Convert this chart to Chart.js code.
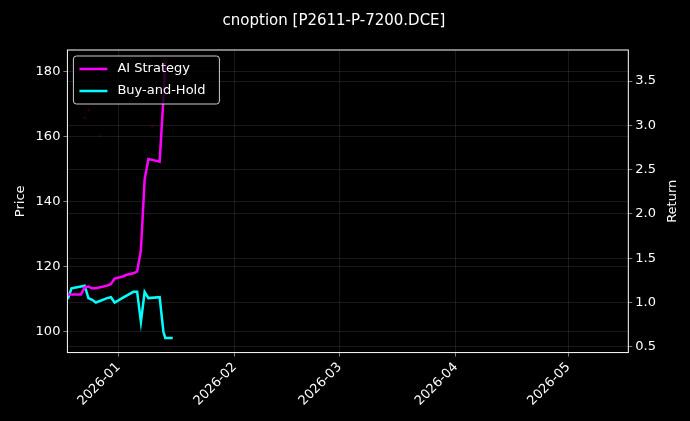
<!DOCTYPE html>
<html>
<head>
<meta charset="utf-8">
<script src="https://cdn.jsdelivr.net/npm/chart.js@4"></script>
<style>
  html, body { margin: 0; padding: 0; background: #000; }
  #wrap { width: 690px; height: 421px; }
</style>
</head>
<body>
<div id="wrap"><canvas id="chart"></canvas></div>
<script>
'use strict';
// x values are days since 2026-01-01
const aiDays = [-13.5, -10, -9, -8, -7, -6, -3, -2, -1, 1, 2, 4, 5, 6, 7, 8, 9, 11, 12, 12.5];
const aiReturn = [1.09, 1.09, 1.17, 1.18, 1.16, 1.16, 1.19, 1.21, 1.27, 1.29, 1.31, 1.33, 1.35, 1.59, 2.39, 2.62, 2.61, 2.59, 3.30, 3.72];
const bhDays = [-13.5, -12.5, -10, -9, -8, -7, -6, -3, -2, -1, 1, 4, 5, 6, 7, 8, 11, 12, 12.5, 14.5];
const bhReturn = [1.04, 1.16, 1.18, 1.19, 1.05, 1.03, 1.00, 1.05, 1.06, 1.00, 1.05, 1.12, 1.12, 0.78, 1.12, 1.05, 1.06, 0.67, 0.60, 0.60];
const priceDays = [-9, -8, -5, 9, 12];
const priceValues = [165.6, 168, 160, 163, 164];
const tickDays = [0, 31, 59, 90, 120];
const tickLabels = ['2026-01', '2026-02', '2026-03', '2026-04', '2026-05'];

const toPoints = (xs, ys) => xs.map((x, i) => ({x, y: ys[i]}));

Chart.defaults.font.family = 'DejaVu Sans';
Chart.defaults.font.size = 13;
Chart.defaults.color = '#fff';

const frame = {
  id: 'frame',
  afterDatasetsDraw(chart) {
    const {ctx, chartArea: a} = chart;
    ctx.save();
    ctx.strokeStyle = '#fff';
    ctx.lineWidth = 1;
    ctx.strokeRect(a.left, a.top, a.right - a.left, a.bottom - a.top);
    // right axis title, reading bottom to top
    ctx.save();
    ctx.translate(673, (a.top + a.bottom) / 2);
    ctx.rotate(-Math.PI / 2);
    ctx.font = '13px DejaVu Sans';
    ctx.fillStyle = '#fff';
    ctx.textAlign = 'center';
    ctx.textBaseline = 'middle';
    ctx.fillText('Return', 0, 0);
    ctx.restore();
    // legend box
    const items = chart.data.datasets.filter(d => d.label);
    const x0 = a.left + 6, y0 = a.top + 6;
    ctx.fillStyle = 'rgba(0,0,0,0.8)';
    ctx.strokeStyle = '#ccc';
    ctx.beginPath();
    ctx.roundRect(x0, y0, 146, 48, 3);
    ctx.fill();
    ctx.stroke();
    ctx.font = '13px DejaVu Sans';
    ctx.textBaseline = 'middle';
    items.forEach((d, i) => {
      const y = y0 + 13 + i * 22;
      ctx.strokeStyle = d.borderColor;
      ctx.lineWidth = 2.5;
      ctx.beginPath();
      ctx.moveTo(x0 + 6, y);
      ctx.lineTo(x0 + 34, y);
      ctx.stroke();
      ctx.fillStyle = '#fff';
      ctx.fillText(d.label, x0 + 44, y);
    });
    ctx.restore();
  },
};

const grid = {color: 'rgba(255,255,255,0.2)', lineWidth: 0.5, tickColor: '#fff', tickLength: 4, borderDash: [2, 2]};

new Chart(document.getElementById('chart'), {
  type: 'line',
  data: {
    datasets: [
      {
        data: toPoints(priceDays, priceValues),
        yAxisID: 'y',
        showLine: false,
        pointRadius: 1,
        pointBackgroundColor: 'rgba(200,0,40,0.4)',
        pointBorderWidth: 0,
      },
      {
        label: 'AI Strategy',
        data: toPoints(aiDays, aiReturn),
        yAxisID: 'y1',
        borderColor: '#ff00ff',
        borderWidth: 2.5,
        pointRadius: 0,
      },
      {
        label: 'Buy-and-Hold',
        data: toPoints(bhDays, bhReturn),
        yAxisID: 'y1',
        borderColor: '#00ffff',
        borderWidth: 2.5,
        pointRadius: 0,
      },
    ],
  },
  options: {
    responsive: true,
    maintainAspectRatio: false,
    animation: false,
    layout: {padding: {top: 12, right: 31, left: 9, bottom: 9}},
    scales: {
      x: {
        type: 'linear',
        min: -13.6,
        max: 136,
        grid: grid,
        border: {display: false},
        afterBuildTicks: (axis) => { axis.ticks = tickDays.map(v => ({value: v})); },
        ticks: {
          maxRotation: 45,
          minRotation: 45,
          callback: (v) => tickLabels[tickDays.indexOf(v)],
        },
      },
      y: {
        position: 'left',
        min: 93.6,
        max: 186.5,
        grid: grid,
        border: {display: false},
        afterBuildTicks: (axis) => { axis.ticks = [100, 120, 140, 160, 180].map(v => ({value: v})); },
        title: {display: true, text: 'Price'},
      },
      y1: {
        position: 'right',
        min: 0.435,
        max: 3.85,
        grid: grid,
        border: {display: false},
        afterBuildTicks: (axis) => { axis.ticks = [0.5, 1, 1.5, 2, 2.5, 3, 3.5].map(v => ({value: v})); },
        ticks: {callback: (v) => v.toFixed(1)},
      },
    },
    plugins: {
      legend: {display: false},
      title: {
        display: true,
        text: 'cnoption [P2611-P-7200.DCE]',
        font: {size: 15, weight: 'normal'},
        padding: {top: 0, bottom: 20},
      },
      tooltip: {enabled: false},
    },
  },
  plugins: [frame],
});
</script>
</body>
</html>
